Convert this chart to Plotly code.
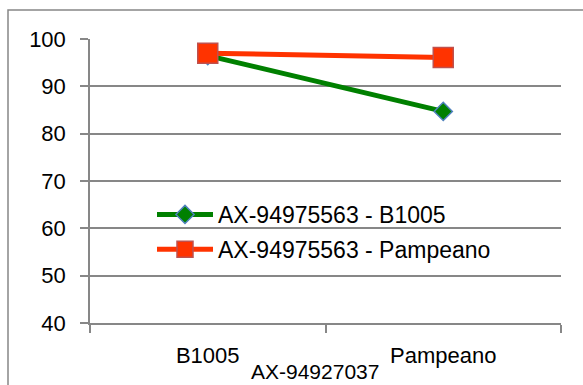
import plotly.graph_objects as go

categories = ["B1005", "Pampeano"]
series_names = ["AX-94975563 - B1005", "AX-94975563 - Pampeano"]
values_b1005 = [96.5, 84.7]
values_pampeano = [97.0, 96.1]
x_title = "AX-94927037"
y_ticks = [40, 50, 60, 70, 80, 90, 100]

W, H = 583, 385
L, R, T, B = 90, 22, 39, 62
pw, ph = W - L - R, H - T - B

FONT = "Liberation Sans"
FS = 22
GRAY = "#878787"

fig = go.Figure()
fig.add_trace(go.Scatter(
    x=categories, y=values_b1005, name=series_names[0], mode="lines+markers",
    line=dict(color="#008000", width=5),
    marker=dict(symbol="diamond", size=14, color="#008000",
                line=dict(color="#4f81bd", width=1.5)),
    legendgroup="g1",
))
fig.add_trace(go.Scatter(
    x=categories, y=values_pampeano, name=series_names[1], mode="lines+markers",
    line=dict(color="#ff3300", width=5),
    marker=dict(symbol="square", size=20, color="#ff3300",
                line=dict(color="#c0504d", width=1.5)),
    legendgroup="g2",
))

def px_x(p):
    return (p - L) / pw

def px_y(p):
    return (H - B - p) / ph

fig.add_shape(type="rect", xref="paper", yref="paper",
              x0=px_x(8), x1=px_x(W + 10), y0=px_y(H + 10), y1=px_y(10),
              line=dict(color=GRAY, width=1.5), fillcolor="rgba(0,0,0,0)", layer="below")

fig.add_annotation(text=x_title, xref="paper", yref="paper",
                   x=px_x(314.5), y=px_y(384), xanchor="center", yanchor="bottom",
                   showarrow=False, borderpad=0,
                   font=dict(family=FONT, size=21, color="#000000"))

fig.update_layout(
    width=W, height=H,
    margin=dict(l=L, r=R, t=T, b=B),
    paper_bgcolor="white", plot_bgcolor="white",
    font=dict(family=FONT, size=FS, color="#000000"),
    showlegend=True,
    legend=dict(x=px_x(152), y=px_y(193), xanchor="left", yanchor="top",
                bgcolor="rgba(0,0,0,0)", itemwidth=56, tracegroupgap=2,
                traceorder="grouped",
                font=dict(family=FONT, size=23, color="#000000")),
    xaxis=dict(type="category", range=[-0.5, 1.5], tickson="boundaries",
               ticks="outside", ticklen=8, tickwidth=1.5, tickcolor=GRAY,
               showline=True, linecolor=GRAY, linewidth=1.5, showgrid=False,
               ticklabelstandoff=12, zeroline=False),
    yaxis=dict(range=[40, 100], tickvals=y_ticks, ticks="outside", ticklen=8,
               tickwidth=1.5, tickcolor=GRAY, showline=True, linecolor=GRAY,
               linewidth=1.5, showgrid=True, gridcolor=GRAY, gridwidth=1.5,
               zeroline=False, ticklabelstandoff=10),
)

fig.write_html("out.html")
